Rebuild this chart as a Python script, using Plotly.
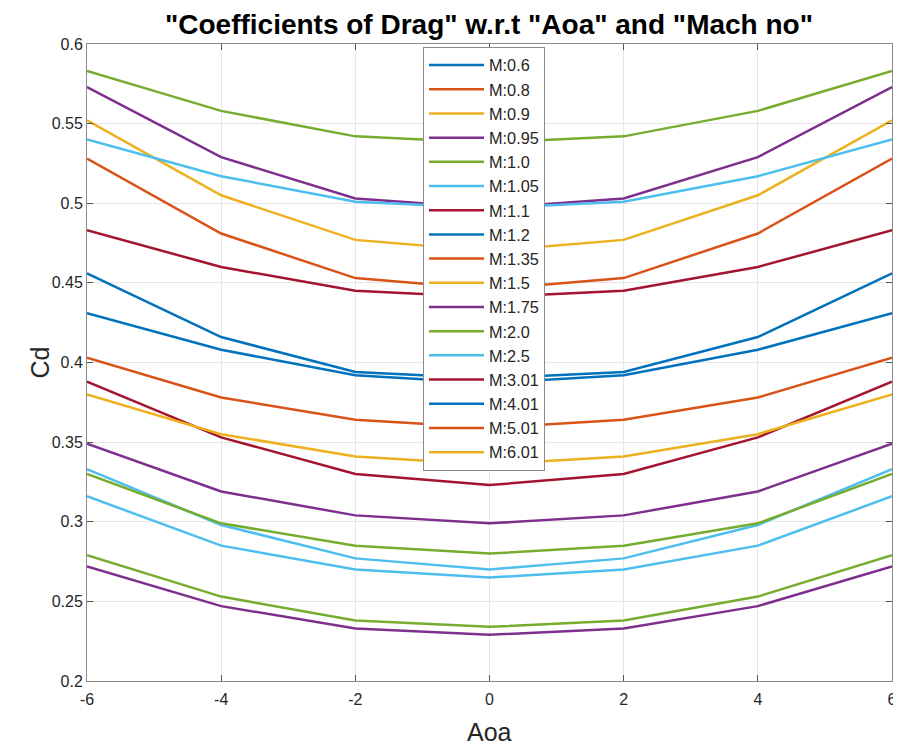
import plotly.graph_objects as go

# ---------------- data ----------------
aoa = [-6, -4, -2, 0, 2, 4, 6]
aoa_ticks = ["-6", "-4", "-2", "0", "2", "4", "6"]
cd_ticks = [0.2, 0.25, 0.3, 0.35, 0.4, 0.45, 0.5, 0.55, 0.6]
cd_tick_text = ["0.2", "0.25", "0.3", "0.35", "0.4", "0.45", "0.5", "0.55", "0.6"]

mach_labels = ["M:0.6", "M:0.8", "M:0.9", "M:0.95", "M:1.0", "M:1.05", "M:1.1",
               "M:1.2", "M:1.35", "M:1.5", "M:1.75", "M:2.0", "M:2.5", "M:3.01",
               "M:4.01", "M:5.01", "M:6.01"]

cd_01 = [0.583, 0.558, 0.542, 0.538, 0.542, 0.558, 0.583]
cd_02 = [0.573, 0.529, 0.503, 0.497, 0.503, 0.529, 0.573]
cd_03 = [0.552, 0.505, 0.477, 0.470, 0.477, 0.505, 0.552]
cd_04 = [0.540, 0.517, 0.501, 0.497, 0.501, 0.517, 0.540]
cd_05 = [0.528, 0.481, 0.453, 0.446, 0.453, 0.481, 0.528]
cd_06 = [0.483, 0.460, 0.445, 0.441, 0.445, 0.460, 0.483]
cd_07 = [0.456, 0.416, 0.394, 0.390, 0.394, 0.416, 0.456]
cd_08 = [0.431, 0.408, 0.392, 0.387, 0.392, 0.408, 0.431]
cd_09 = [0.403, 0.378, 0.364, 0.359, 0.364, 0.378, 0.403]
cd_10 = [0.388, 0.353, 0.330, 0.323, 0.330, 0.353, 0.388]
cd_11 = [0.380, 0.355, 0.341, 0.336, 0.341, 0.355, 0.380]
cd_12 = [0.349, 0.319, 0.304, 0.299, 0.304, 0.319, 0.349]
cd_13 = [0.333, 0.298, 0.277, 0.270, 0.277, 0.298, 0.333]
cd_14 = [0.330, 0.299, 0.285, 0.280, 0.285, 0.299, 0.330]
cd_15 = [0.316, 0.285, 0.270, 0.265, 0.270, 0.285, 0.316]
cd_16 = [0.279, 0.253, 0.238, 0.234, 0.238, 0.253, 0.279]
cd_17 = [0.272, 0.247, 0.233, 0.229, 0.233, 0.247, 0.272]

# ---------------- styles ----------------
BLUE, ORANGE, YELLOW, PURPLE = "#0072BD", "#D95319", "#EDB120", "#7E2F8E"
GREEN, CYAN, DRED = "#77AC30", "#4DBEEE", "#A2142F"
cycle = [BLUE, ORANGE, YELLOW, PURPLE, GREEN, CYAN, DRED]

curves = [cd_01, cd_02, cd_03, cd_04, cd_05, cd_06, cd_07, cd_08, cd_09,
          cd_10, cd_11, cd_12, cd_13, cd_14, cd_15, cd_16, cd_17]
curve_colors = [GREEN, PURPLE, YELLOW, CYAN, ORANGE, DRED, BLUE, BLUE, ORANGE,
                DRED, YELLOW, PURPLE, CYAN, GREEN, CYAN, GREEN, PURPLE]

fig = go.Figure()
for i, (c, col) in enumerate(zip(curves, curve_colors)):
    fig.add_trace(go.Scatter(x=aoa, y=c, mode="lines", name=f"curve {i+1}",
                             line=dict(color=col, width=2.5), showlegend=False,
                             hoverinfo="x+y"))
# legend entries (MATLAB colour order)
for i, lab in enumerate(mach_labels):
    fig.add_trace(go.Scatter(x=[None], y=[None], mode="lines", name=lab,
                             line=dict(color=cycle[i % 7], width=2.5)))

FONT = "Liberation Sans, Arial, Helvetica, sans-serif"
axis_common = dict(showline=True, linecolor="#8a8a8a", linewidth=1, mirror="ticks",
                   ticks="inside", ticklen=6, tickcolor="#555555", automargin=False,
                   showgrid=True, gridcolor="#e6e6e6", gridwidth=1, zeroline=False,
                   tickfont=dict(family=FONT, size=16, color="#262626"))

# page body has an 8px margin, so the figure is 893x738 at offset (8, 8)
fig.update_layout(
    width=893, height=738,
    margin=dict(l=79, r=9, t=36, b=65),
    paper_bgcolor="white", plot_bgcolor="white",
    font=dict(family=FONT, color="#262626"),
    title=dict(text='<b>"Coefficients of Drag" w.r.t "Aoa" and "Mach no"</b>',
               x=0.5386, xanchor="center", y=0.978, yanchor="middle",
               font=dict(family=FONT, size=28, color="black")),
    xaxis=dict(range=[-6, 6], tickvals=aoa, ticktext=aoa_ticks,
               ticklabelstandoff=4, **axis_common),
    yaxis=dict(range=[0.2, 0.6], tickvals=cd_ticks, ticktext=cd_tick_text, **axis_common),
    legend=dict(x=0.4174, y=0.9953, xanchor="left", yanchor="top",
                bgcolor="white", bordercolor="#8a8a8a", borderwidth=1,
                font=dict(family=FONT, size=16.3, color="#262626"),
                tracegroupgap=0, itemwidth=55),
    showlegend=True,
    annotations=[
        dict(text="Aoa", x=0.5, xref="paper", y=-0.080, yref="paper",
             xanchor="center", yanchor="middle", showarrow=False,
             font=dict(family=FONT, size=25, color="#262626")),
        dict(text="Cd", x=-0.0584, xref="paper", y=0.5, yref="paper",
             xanchor="center", yanchor="middle", showarrow=False, textangle=-90,
             font=dict(family=FONT, size=25, color="#262626")),
    ],
)

fig.write_html("out.html")
